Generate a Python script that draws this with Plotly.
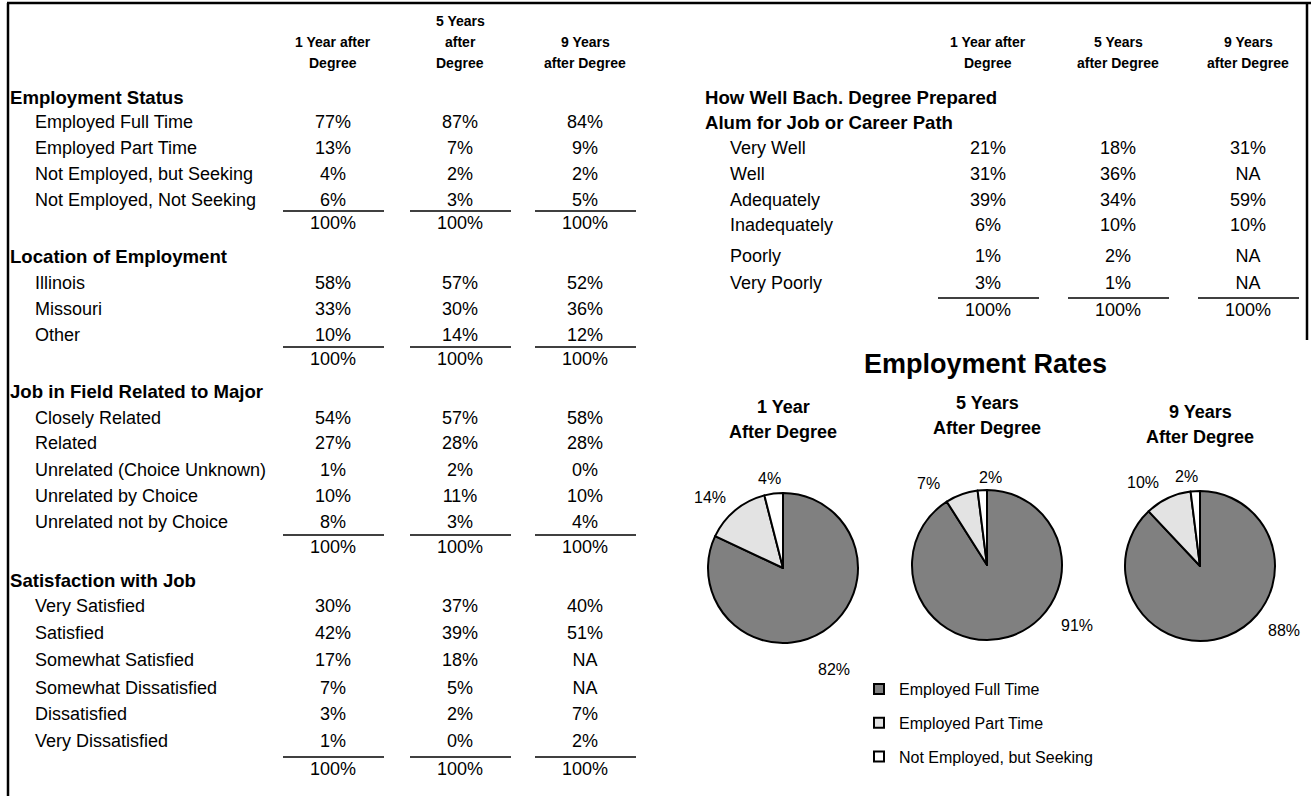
import plotly.graph_objects as go

W, H = 1311, 796

# column headers (one entry per line)
left_headers = [["1 Year after", "Degree"], ["5 Years", "after", "Degree"], ["9 Years", "after Degree"]]
right_headers = [["1 Year after", "Degree"], ["5 Years", "after Degree"], ["9 Years", "after Degree"]]

# left table
status_labels = ["Employed Full Time", "Employed Part Time", "Not Employed, but Seeking", "Not Employed, Not Seeking"]
status_1 = [77, 13, 4, 6]
status_5 = [87, 7, 2, 3]
status_9 = [84, 9, 2, 5]

location_labels = ["Illinois", "Missouri", "Other"]
location_1 = [58, 33, 10]
location_5 = [57, 30, 14]
location_9 = [52, 36, 12]

field_labels = ["Closely Related", "Related", "Unrelated (Choice Unknown)", "Unrelated by Choice", "Unrelated not by Choice"]
field_1 = [54, 27, 1, 10, 8]
field_5 = [57, 28, 2, 11, 3]
field_9 = [58, 28, 0, 10, 4]

satisf_labels = ["Very Satisfied", "Satisfied", "Somewhat Satisfied", "Somewhat Dissatisfied", "Dissatisfied", "Very Dissatisfied"]
satisf_1 = [30, 42, 17, 7, 3, 1]
satisf_5 = [37, 39, 18, 5, 2, 0]
satisf_9 = [40, 51, None, None, 7, 2]

# right table
prep_title = ["How Well Bach. Degree Prepared", "Alum for Job or Career Path"]
prep_labels = ["Very Well", "Well", "Adequately", "Inadequately", "Poorly", "Very Poorly"]
prep_1 = [21, 31, 39, 6, 1, 3]
prep_5 = [18, 36, 34, 10, 2, 1]
prep_9 = [31, None, 59, 10, None, None]

totals = [100, 100, 100]

# pies
pie_titles = [["1 Year", "After Degree"], ["5 Years", "After Degree"], ["9 Years", "After Degree"]]
pie_labels = ["Employed Full Time", "Employed Part Time", "Not Employed, but Seeking"]
pie_1yr = [82, 14, 4]
pie_5yr = [91, 7, 2]
pie_9yr = [88, 10, 2]
pie_colors = ["#808080", "#e3e3e3", "#ffffff"]

FONT = "Liberation Sans, Arial, sans-serif"
BODY = 18


def pct(v):
    return "NA" if v is None else f"{v}%"


fig = go.Figure()
annotations = []
shapes = []


def label(x, y, text, bold=False, size=BODY, anchor="left"):
    annotations.append(dict(
        x=x, y=y, xref="x", yref="y", text=f"<b>{text}</b>" if bold else text,
        showarrow=False, xanchor=anchor, yanchor="middle",
        font=dict(family=FONT, size=size, color="black"),
    ))


def headers(col_x, heads, bottom_y=63, step=21):
    for cx, lines in zip(col_x, heads):
        for k, line in enumerate(reversed(lines)):
            label(cx, bottom_y - k * step, line, bold=True, size=14, anchor="center")


def block(col_x, labels, cols, item_ys, total_y, label_x):
    for lab, y in zip(labels, item_ys):
        label(label_x, y, lab)
    for cx, vals, tot in zip(col_x, cols, totals):
        fig.add_trace(go.Scatter(
            x=[cx] * (len(vals) + 1), y=[y + 1 for y in item_ys + [total_y]],
            text=[pct(v) for v in vals] + [pct(tot)],
            mode="text", textposition="middle center",
            textfont=dict(family=FONT, size=BODY, color="black"),
            hoverinfo="skip", showlegend=False,
        ))
        shapes.append(dict(type="line", xref="x", yref="y",
                           x0=cx - 50, x1=min(cx + 51, W), y0=total_y - 12, y1=total_y - 12,
                           line=dict(color="black", width=1.5)))


SEC = 18.6  # bold section headings

# left table
left_x = [333, 460, 585]
headers(left_x, left_headers)
label(8, 97, "Employment Status", bold=True, size=SEC)
block(left_x, status_labels, [status_1, status_5, status_9], [122, 148, 174, 200], 223, 33)
label(8, 256, "Location of Employment", bold=True, size=SEC)
block(left_x, location_labels, [location_1, location_5, location_9], [283, 309, 335], 359, 33)
label(8, 391, "Job in Field Related to Major", bold=True, size=SEC)
block(left_x, field_labels, [field_1, field_5, field_9], [418, 443, 470, 496, 522], 547, 33)
label(8, 580, "Satisfaction with Job", bold=True, size=SEC)
block(left_x, satisf_labels, [satisf_1, satisf_5, satisf_9], [606, 633, 660, 688, 714, 741], 769, 33)

# right table
right_x = [988, 1118, 1248]
headers(right_x, right_headers)
label(703, 97, prep_title[0], bold=True, size=SEC)
label(703, 122, prep_title[1], bold=True, size=SEC)
block(right_x, prep_labels, [prep_1, prep_5, prep_9], [148, 174, 200, 225, 256, 283], 310, 728)

# pies
label(985, 364, "Employment Rates", bold=True, size=27, anchor="center")
pie_centers = [(783, 568, 407), (987, 565, 403), (1200, 566, 412)]
# where the slice percentages sit around each pie
pie_label_pos = [
    [(834, 669), (710, 497), (769, 478)],
    [(1077, 625), (928, 483), (990, 477)],
    [(1284, 630), (1143, 482), (1186, 476)],
]
for (cx, cy, ty), title, vals, lpos in zip(pie_centers, pie_titles, [pie_1yr, pie_5yr, pie_9yr], pie_label_pos):
    r = 75
    fig.add_trace(go.Pie(
        labels=pie_labels, values=vals, sort=False, direction="clockwise",
        marker=dict(colors=pie_colors, line=dict(color="black", width=2)),
        textinfo="none",
        domain=dict(x=[(cx - r) / W, (cx + r) / W], y=[1 - (cy + r) / H, 1 - (cy - r) / H]),
        showlegend=False, hoverinfo="label+percent",
    ))
    for k, line in enumerate(title):
        label(cx, ty + k * 25, line, bold=True, size=18, anchor="center")
    for v, (lx, ly) in zip(vals, lpos):
        label(lx, ly, pct(v), size=16, anchor="center")

# legend entries
for lab, col in zip(pie_labels, pie_colors):
    fig.add_trace(go.Scatter(
        x=[None], y=[None], mode="markers", name=lab, legendgroup=lab,
        marker=dict(symbol="square", size=10, color=col, line=dict(color="black", width=2)),
    ))

# frame
shapes += [
    dict(type="line", xref="x", yref="y", x0=7, x1=W, y0=3, y1=3, line=dict(color="black", width=2.5)),
    dict(type="line", xref="x", yref="y", x0=8, x1=8, y0=3, y1=H, line=dict(color="black", width=2.5)),
    dict(type="line", xref="x", yref="y", x0=1307, x1=1307, y0=3, y1=340, line=dict(color="black", width=2.5)),
]

fig.update_layout(
    width=W, height=H,
    margin=dict(l=0, r=0, t=0, b=0),
    paper_bgcolor="white", plot_bgcolor="white",
    xaxis=dict(range=[0, W], visible=False, fixedrange=True),
    yaxis=dict(range=[H, 0], visible=False, fixedrange=True),
    annotations=annotations, shapes=shapes,
    showlegend=True,
    legend=dict(x=859 / W, y=1 - 672 / H, xanchor="left", yanchor="top",
                font=dict(family=FONT, size=16, color="black"),
                tracegroupgap=10, bgcolor="rgba(0,0,0,0)"),
)

fig.write_html("out.html", config={"displayModeBar": False},
               post_script="document.body.style.margin='0';document.body.style.overflow='hidden';")
